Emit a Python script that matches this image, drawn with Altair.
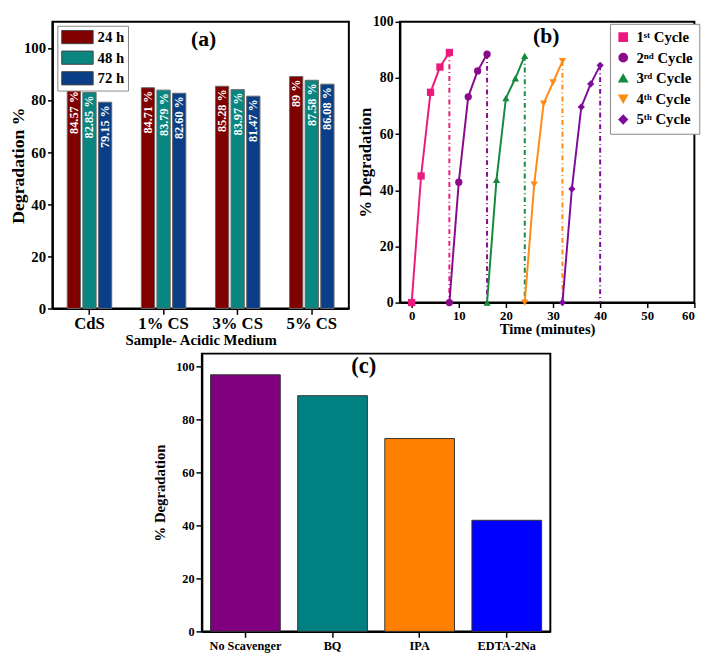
import altair as alt
import pandas as pd

FONT = "Liberation Serif"

# ---------- panel (a) data ----------
samples = ["CdS", "1% CS", "3% CS", "5% CS"]
times = ["24 h", "48 h", "72 h"]
deg_24 = [84.57, 84.71, 85.28, 89.0]
deg_48 = [82.85, 83.79, 83.97, 87.58]
deg_72 = [79.15, 82.60, 81.47, 86.08]
lab_24 = ["84.57 %", "84.71 %", "85.28 %", "89 %"]
lab_48 = ["82.85 %", "83.79 %", "83.97 %", "87.58 %"]
lab_72 = ["79.15 %", "82.60 %", "81.47 %", "86.08 %"]
colors_a = ["#800000", "#08867F", "#0A3F87"]

# ---------- panel (b) data ----------
cycles = ["1ˢᵗ Cycle", "2ⁿᵈ Cycle", "3ʳᵈ Cycle", "4ᵗʰ Cycle", "5ᵗʰ Cycle"]
t1 = [0, 2, 4, 6, 8];      d1 = [0, 45.1, 74.9, 83.9, 89.1]
t2 = [8, 10, 12, 14, 16];  d2 = [0, 42.9, 73.3, 82.5, 88.5]
t3 = [16, 18, 20, 22, 24]; d3 = [0, 43.7, 72.8, 79.9, 87.9]
t4 = [24, 26, 28, 30, 32]; d4 = [0, 42.0, 70.9, 78.4, 86.0]
t5 = [32, 34, 36, 38, 40]; d5 = [0, 40.5, 69.7, 77.9, 84.5]
colors_b = ["#EC1A7E", "#8B0A8C", "#138A3C", "#FF8A14", "#7D0C9A"]
shapes_b = ["square", "circle", "triangle-up", "triangle-down", "diamond"]

# ---------- panel (c) data ----------
scavengers = ["No Scavenger", "BQ", "IPA", "EDTA-2Na"]
deg_c = [97.0, 89.1, 72.9, 42.0]
colors_c = ["#800080", "#008080", "#FF8000", "#0000FF"]

# ---------- tables ----------
rows_a = []
for i, s in enumerate(samples):
    for t, vals, labs in zip(times, [deg_24, deg_48, deg_72], [lab_24, lab_48, lab_72]):
        rows_a.append({"sample": s, "time": t, "value": vals[i], "label": labs[i]})
dfa = pd.DataFrame(rows_a)

rows_b = []
ends = []
for c, ts, ds in zip(cycles, [t1, t2, t3, t4, t5], [d1, d2, d3, d4, d5]):
    for t, d in zip(ts, ds):
        rows_b.append({"cycle": c, "t": t, "d": d})
    ends.append({"cycle": c, "t": ts[-1], "d": ds[-1]})
dfb = pd.DataFrame(rows_b)
dfe = pd.DataFrame(ends)

dfc = pd.DataFrame({"scav": scavengers, "deg": deg_c})

axis_common = dict(labelFont=FONT, titleFont=FONT, labelFontWeight="bold", titleFontWeight="bold",
                   domainColor="black", domainWidth=2, tickColor="black", tickWidth=1.5,
                   labelColor="black", titleColor="black", grid=False)

# ---------- panel (a) ----------
xa = alt.X("sample:N", sort=samples,
           scale=alt.Scale(paddingInner=0.4, paddingOuter=0.2),
           axis=alt.Axis(title="Sample- Acidic Medium", labelAngle=0, labelFontSize=17,
                         titleFontSize=15, titlePadding=2, tickSize=6, labelPadding=1, **axis_common))
ya = alt.Y("value:Q", scale=alt.Scale(domain=[0, 110], nice=False),
           axis=alt.Axis(values=[0, 20, 40, 60, 80, 100], title="Degradation %", labelFontSize=15,
                         titleFontSize=18, tickSize=5, titlePadding=-4, labelPadding=2, **axis_common))
xoff = alt.XOffset("time:N", sort=times, scale=alt.Scale(paddingInner=0.15))

bars_a = alt.Chart(dfa).mark_bar(stroke="#666666", strokeWidth=1).encode(
    x=xa, xOffset=xoff, y=ya,
    color=alt.Color("time:N", sort=times, scale=alt.Scale(domain=times, range=colors_a),
                    legend=alt.Legend(title=None, orient="none", legendX=5, legendY=4,
                                      symbolType="M-2,-0.84H2V0.84H-2Z", symbolSize=256,
                                      symbolOffset=9, symbolStrokeColor="#444444", symbolStrokeWidth=1,
                                      labelFont=FONT, labelFontWeight="bold", labelFontSize=15,
                                      labelColor="black", rowPadding=2, padding=3,
                                      strokeColor="#888888", fillColor="white", labelOffset=12))
)
text_a = alt.Chart(dfa).mark_text(angle=270, align="right", baseline="middle", dx=-3,
                                  color="white", font=FONT, fontWeight="bold", fontSize=12.5).encode(
    x=xa, xOffset=xoff, y=ya, text="label:N")
tag_a = alt.Chart(pd.DataFrame({"t": ["(a)"]})).mark_text(
    font=FONT, fontWeight="bold", fontSize=22, color="black").encode(
    text="t:N", x=alt.value(154), y=alt.value(18))
panel_a = alt.layer(bars_a, text_a, tag_a).properties(width=302, height=292)

# ---------- panel (b) ----------
xb = alt.X("t:Q", scale=alt.Scale(domain=[-2.5, 60], nice=False, zero=False),
           axis=alt.Axis(values=list(range(0, 61, 5)), title="Time (minutes)", labelFontSize=13,
                         titleFontSize=15, titlePadding=0, tickSize=5, labelPadding=2, **axis_common))
yb = alt.Y("d:Q", scale=alt.Scale(domain=[0, 100], nice=False),
           axis=alt.Axis(values=[0, 20, 40, 60, 80, 100], title="% Degradation", labelFontSize=14,
                         titleFontSize=17, tickSize=5, titlePadding=-2, labelPadding=2, **axis_common))
cscale = alt.Scale(domain=cycles, range=colors_b)
leg_b = alt.Legend(title=None, orient="none", legendX=214, legendY=2,
                   labelFont=FONT, labelFontWeight="bold", labelFontSize=15, labelColor="black",
                   symbolSize=70, rowPadding=5, padding=6, strokeColor="#888888", fillColor="white",
                   symbolStrokeWidth=1.5, labelOffset=6)
lines_b = alt.Chart(dfb).mark_line(strokeWidth=2).encode(
    x=xb, y=yb, color=alt.Color("cycle:N", scale=cscale, legend=leg_b), detail="cycle:N")
pts_b = alt.Chart(dfb).mark_point(filled=True, size=55, opacity=1).encode(
    x=xb, y=yb,
    color=alt.Color("cycle:N", scale=cscale, legend=leg_b),
    shape=alt.Shape("cycle:N", scale=alt.Scale(domain=cycles, range=shapes_b), legend=leg_b))
rules_b = alt.Chart(dfe).mark_rule(strokeWidth=2, strokeDash=[5, 3, 1, 3]).encode(
    x="t:Q", y="d:Q", y2=alt.datum(0),
    color=alt.Color("cycle:N", scale=cscale, legend=leg_b))
tag_b = alt.Chart(pd.DataFrame({"t": ["(b)"]})).mark_text(
    font=FONT, fontWeight="bold", fontSize=22, color="black").encode(
    text="t:N", x=alt.value(149), y=alt.value(15))
panel_b = alt.layer(rules_b, lines_b, pts_b, tag_b).properties(width=300, height=286)

# ---------- panel (c) ----------
xc = alt.X("scav:N", sort=scavengers, scale=alt.Scale(paddingInner=0.2, paddingOuter=0.1),
           axis=alt.Axis(title=None, labelAngle=0, labelFontSize=12.5, tickSize=6, labelPadding=2,
                         **axis_common))
yc = alt.Y("deg:Q", scale=alt.Scale(domain=[0, 105], nice=False),
           axis=alt.Axis(values=[0, 20, 40, 60, 80, 100], title="% Degradation", labelFontSize=12.5,
                         titleFontSize=15, tickSize=6, titlePadding=8, **axis_common))
bars_c = alt.Chart(dfc).mark_bar(stroke="#333333", strokeWidth=1).encode(
    x=xc, y=yc, color=alt.Color("scav:N", scale=alt.Scale(domain=scavengers, range=colors_c), legend=None))
tag_c = alt.Chart(pd.DataFrame({"t": ["(c)"]})).mark_text(
    font=FONT, fontWeight="bold", fontSize=23, color="black").encode(
    text="t:N", x=alt.value(165), y=alt.value(13))
panel_c = alt.layer(bars_c, tag_c).properties(width=355, height=283)

top = alt.hconcat(panel_a, panel_b, spacing=6).resolve_scale(
    color="independent", shape="independent").resolve_legend(color="independent", shape="independent")
chart = alt.vconcat(top, panel_c, spacing=4, center=True).resolve_scale(
    color="independent", shape="independent").resolve_legend(
    color="independent", shape="independent").configure_view(
    stroke="black", strokeWidth=2).properties(padding=0, background="white")

chart.save("out.html", embed_options={"renderer": "svg", "actions": False})
